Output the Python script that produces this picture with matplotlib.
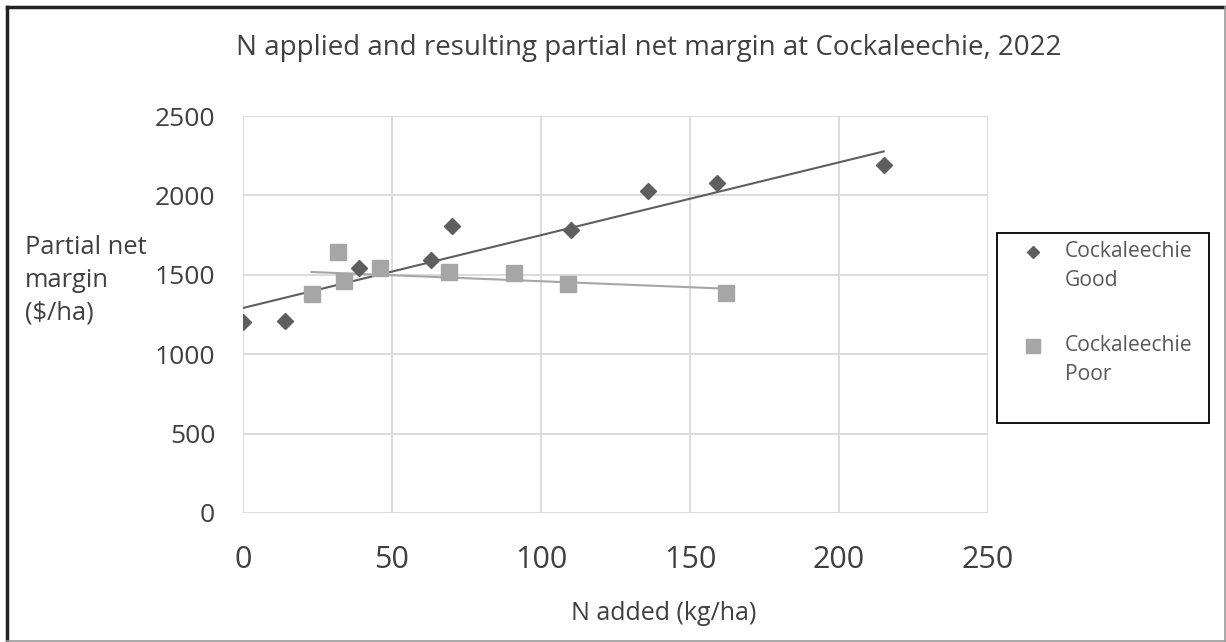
import numpy as np
import matplotlib
matplotlib.use('Agg')
import matplotlib.pyplot as plt
from matplotlib.lines import Line2D
from matplotlib.patches import Rectangle

plt.rcParams['font.family'] = ['Open Sans', 'DejaVu Sans']

# Cockaleechie Good
good_n      = [0, 14, 39, 63, 70, 110, 136, 159, 215]
good_margin = [1200, 1210, 1540, 1595, 1810, 1785, 2030, 2075, 2190]

# Cockaleechie Poor
poor_n      = [23, 32, 34, 46, 69, 91, 109, 162]
poor_margin = [1380, 1645, 1460, 1545, 1515, 1510, 1440, 1385]

# linear trendlines as drawn in the chart: (intercept, slope)
good_trend = (1291, 4.586)
poor_trend = (1535, -0.755)

x_ticks = [0, 50, 100, 150, 200, 250]
y_ticks = [0, 500, 1000, 1500, 2000, 2500]

series_labels = ['Cockaleechie\nGood', 'Cockaleechie\nPoor']
title  = 'N applied and resulting partial net margin at Cockaleechie, 2022'
xlabel = 'N added (kg/ha)'
ylabel = 'Partial net\nmargin\n($/ha)'

good_col   = '#5e5e5e'
poor_col   = '#a6a6a6'
grid_col   = '#d9d9d9'
text_col   = '#404040'

W, H = 1226, 642
fig = plt.figure(figsize = (W / 100, H / 100), dpi = 100)
fig.patch.set_facecolor('white')

ax = fig.add_axes([243 / W, 1 - 513 / H, (988 - 243) / W, (513 - 116) / H])

ax.plot(good_n, good_margin, linestyle = 'none', marker = 'D', ms = 8.2,
        color = good_col, zorder = 4)
ax.plot(poor_n, poor_margin, linestyle = 'none', marker = 's', ms = 11.5,
        color = poor_col, zorder = 3)

for xs, (b, k), col in [(good_n, good_trend, good_col), (poor_n, poor_trend, poor_col)]:
    xr = np.array([min(xs), max(xs)])
    ax.plot(xr, b + k * xr, color = col, lw = 1.5, zorder = 2)

ax.set_xlim(0, 250)
ax.set_ylim(0, 2500)
ax.set_xticks(x_ticks)
ax.set_yticks(y_ticks)
ax.grid(True, color = grid_col, lw = 1.3)
ax.set_axisbelow(True)
for s in ax.spines.values():
    s.set_visible(False)
ax.tick_params(length = 0, labelcolor = text_col)
ax.tick_params(axis = 'x', pad = 23, labelsize = 22)
ax.tick_params(axis = 'y', pad = 20, labelsize = 19)

fig.text(649 / W, 1 - 48 / H, title, ha = 'center', va = 'center',
         fontsize = 20, color = text_col)
fig.text(664 / W, 1 - 613 / H, xlabel, ha = 'center', va = 'center',
         fontsize = 18, color = text_col)
fig.text(25 / W, 1 - 280 / H, ylabel, ha = 'left', va = 'center',
         fontsize = 18.4, color = text_col, linespacing = 1.42)

# legend, laid out as in the source chart
fig.add_artist(Rectangle((997 / W, 1 - 423 / H), 212 / W, 190 / H, fill = False,
                         edgecolor = 'black', lw = 1.3, transform = fig.transFigure))
for (lab, mk, ms, col, yc) in [(series_labels[0], 'D', 6.3, good_col, 266),
                               (series_labels[1], 's', 9.5, poor_col, 360)]:
    fig.add_artist(Line2D([1033 / W], [1 - (yc - 14) / H], marker = mk, ms = ms,
                          color = col, linestyle = 'none', transform = fig.transFigure))
    fig.text(1065 / W, 1 - yc / H, lab, ha = 'left', va = 'center', fontsize = 15.2,
             color = '#595959', linespacing = 1.48)

# outer chart border
fig.add_artist(Line2D([7 / W, 7 / W], [0, 1 - 7 / H], color = '#222222', lw = 2.5,
                      transform = fig.transFigure))
fig.add_artist(Line2D([7 / W, 1224.5 / W], [1 - 7 / H, 1 - 7 / H], color = '#222222', lw = 2.5,
                      transform = fig.transFigure))
fig.add_artist(Line2D([1224.5 / W, 1224.5 / W], [0, 1 - 7 / H], color = '#999999', lw = 1.2,
                      transform = fig.transFigure))
fig.add_artist(Line2D([7 / W, 1224.5 / W], [0.8 / H, 0.8 / H], color = '#999999', lw = 1.2,
                      transform = fig.transFigure))

plt.savefig('out.png', dpi = 100)
plt.close()
